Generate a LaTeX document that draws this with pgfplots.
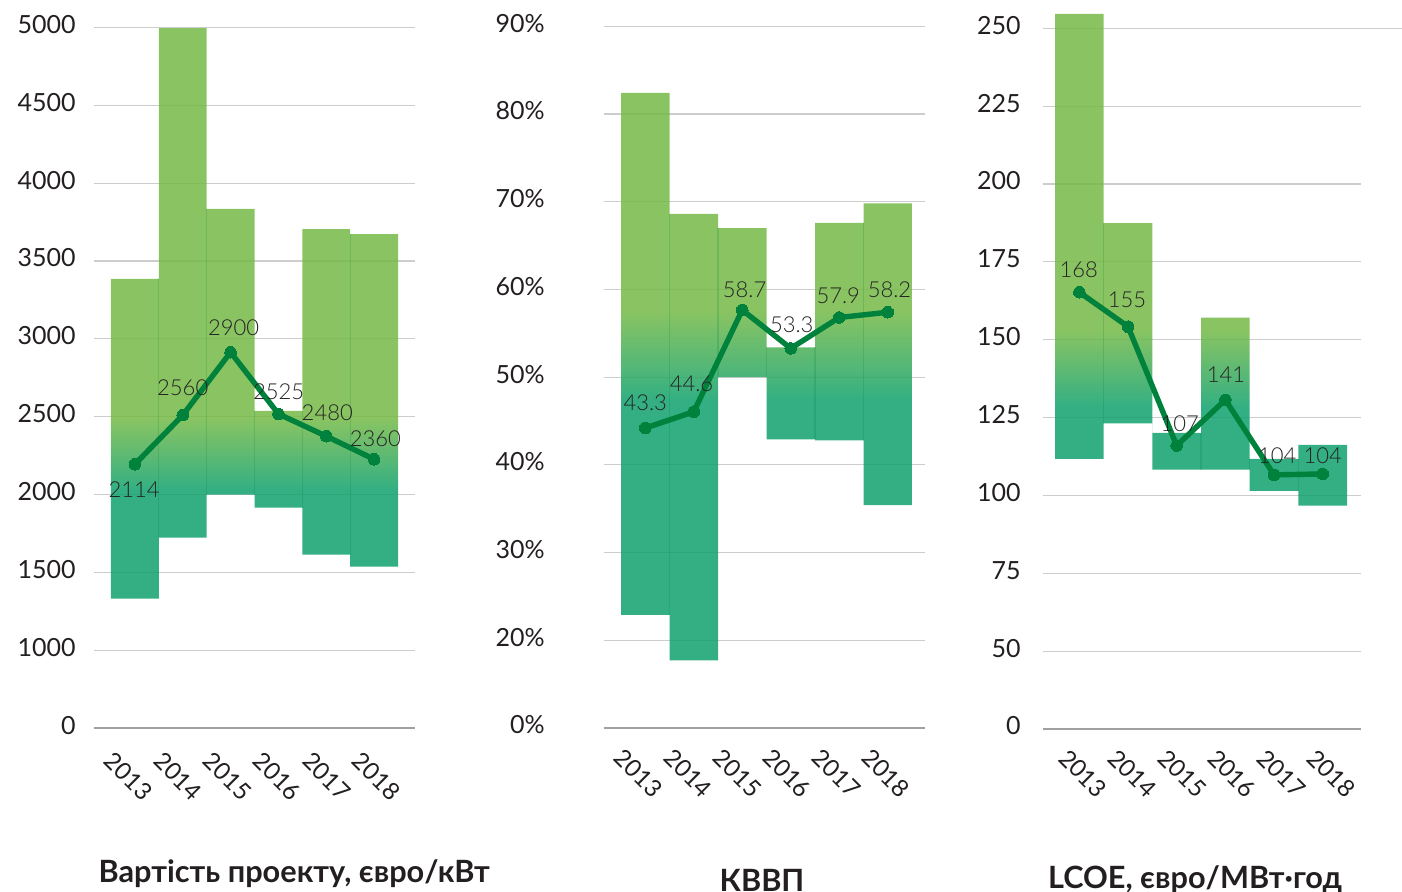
\documentclass[border=0pt]{standalone}
\usepackage{pgfplots}
\pgfplotsset{compat=1.18}
\usepackage{pgfplotstable}
\usepackage{fontspec}
\setmainfont{Lato}
\newfontfamily\lightfont{Lato Light}
\definecolor{bargreen}{RGB}{118,186,70}
\definecolor{barteal}{RGB}{15,161,109}
\definecolor{lineg}{RGB}{0,130,60}
\definecolor{gridc}{RGB}{205,205,205}
\definecolor{axc}{RGB}{160,160,160}
\definecolor{txt}{RGB}{35,31,32}
\definecolor{lab}{RGB}{35,35,35}

\pgfdeclareverticalshading{shL}{100bp}{color(0bp)=(barteal); color(34.5bp)=(barteal); color(40.9bp)=(bargreen); color(100bp)=(bargreen)}
\pgfdeclareverticalshading{shM}{100bp}{color(0bp)=(barteal); color(47.9bp)=(barteal); color(55.9bp)=(bargreen); color(100bp)=(bargreen)}
\pgfdeclareverticalshading{shR}{100bp}{color(0bp)=(barteal); color(35bp)=(barteal); color(43bp)=(bargreen); color(100bp)=(bargreen)}

\pgfplotstableread{
x y lab dy dx
0 2195 2114 -12.85 -0.35
1 2510 2560 13.8 0
2 2914 2900 12.3 1.5
3 2518 2525 11 0.15
4 2375 2480 11.8 0.5
5 2227 2360 10.15 0.65
}\costline
\pgfplotstableread{
x y lab dy dx
0 44.2 43.3 12.85 0
1 46.05 44.6 14.2 -1.15
2 57.65 58.7 10 1.15
3 53.28 53.3 11.65 0.5
4 56.8 57.9 10.85 -0.5
5 57.4 58.2 11.5 0.85
}\kvvpline
\pgfplotstableread{
x y lab dy dx
0 165.25 168 11.5 -0.35
1 154.2 155 13.5 -0.5
2 116 107 10.7 1.5
3 130.7 141 12.35 0.35
4 106.6 104 9.5 1.65
5 106.9 104 9 0
}\lcoeline

\pgfplotsset{
  panel/.style={
    scale only axis, anchor=south west, clip=false,
    axis line style={draw=none},
    major tick length=0pt, tick style={draw=none},
    ymajorgrids, grid style={draw=gridc, line width=0.55pt},
    extra y tick labels={},
    extra y tick style={grid style={draw=axc, line width=1.1pt}},
    xticklabels={2013,2014,2015,2016,2017,2018},
    yticklabel style={font=\fontsize{12.5}{14}\selectfont, text=txt, anchor=east, inner sep=0pt},
  },
  sep/.style={draw=lineg, draw opacity=0.2, line width=0.6pt, unbounded coords=jump, forget plot},
  medline/.style={lineg, line width=2.7pt, line join=round, mark=*, mark size=2.9pt,
    mark options={fill=lineg, draw=lineg, line width=0pt},
    nodes near coords, point meta=explicit symbolic,
    visualization depends on={\thisrow{dy} \as \dy},
    visualization depends on={\thisrow{dx} \as \dx},
    every node near coord/.append style={anchor=center, yshift=\dy pt, xshift=\dx pt,
      font=\lightfont\fontsize{11}{12}\selectfont, text=lab, inner sep=0pt}},
}

\begin{document}
\begin{tikzpicture}
\useasboundingbox (0,0) rectangle (701pt,446pt);

% ---------------- left panel
\begin{axis}[panel, at={(47pt,81.85pt)}, width=160.5pt, height=350.5pt,
  xmin=-0.855, xmax=5.855, ymin=500, ymax=5000,
  ytick={500,1000,...,5000},
  yticklabels={0,1000,1500,2000,2500,3000,3500,4000,4500,5000},
  extra y ticks={500},
  yticklabel style={xshift=-9pt, yshift=1.5pt},
  xtick={-0.136,0.901,1.938,2.975,4.012,5.049},
  xticklabel style={yshift=-24pt, rotate=-45, anchor=center, inner sep=0pt, font=\fontsize{12}{14}\selectfont, text=txt}]
\addplot[draw=none, shade, shading=shL, opacity=0.85] coordinates {
 (-0.5,3385) (0.5,3385) (0.5,4995) (1.5,4995) (1.5,3834) (2.5,3834) (2.5,2537) (3.5,2537)
 (3.5,3705) (4.5,3705) (4.5,3673) (5.5,3673) (5.5,1538) (4.5,1538) (4.5,1615) (3.5,1615)
 (3.5,1916) (2.5,1916) (2.5,2000) (1.5,2000) (1.5,1724) (0.5,1724) (0.5,1332) (-0.5,1332)};
\addplot[sep] coordinates {(0.5,1724) (0.5,3385) (0.5,nan) (1.5,2000) (1.5,3834) (1.5,nan)
 (2.5,2000) (2.5,2537) (2.5,nan) (3.5,1916) (3.5,2537) (3.5,nan) (4.5,1615) (4.5,3673)};
\addplot[medline] table[x=x, y=y, meta=lab] {\costline};
\end{axis}

% ---------------- middle panel
\begin{axis}[panel, at={(301.85pt,82pt)}, width=160.65pt, height=350.85pt,
  xmin=-0.857, xmax=5.768, ymin=10, ymax=90,
  ytick={10,20,...,90},
  yticklabels={0\%,20\%,30\%,40\%,50\%,60\%,70\%,80\%,90\%},
  extra y ticks={10},
  yticklabel style={xshift=-29.35pt, yshift=1.5pt},
  xtick={-0.135,0.885,1.905,2.925,3.945,4.965},
  xticklabel style={yshift=-22.7pt, rotate=-45, anchor=center, inner sep=0pt, font=\fontsize{12}{14}\selectfont, text=txt}]
\addplot[draw=none, shade, shading=shM, opacity=0.85] coordinates {
 (-0.5,82.4) (0.5,82.4) (0.5,68.6) (1.5,68.6) (1.5,67.0) (2.5,67.0) (2.5,53.4) (3.5,53.4)
 (3.5,67.6) (4.5,67.6) (4.5,69.8) (5.5,69.8) (5.5,35.4) (4.5,35.4) (4.5,42.8) (3.5,42.8)
 (3.5,42.9) (2.5,42.9) (2.5,50.0) (1.5,50.0) (1.5,17.7) (0.5,17.7) (0.5,22.9) (-0.5,22.9)};
\addplot[sep] coordinates {(0.5,22.9) (0.5,68.6) (0.5,nan) (1.5,50) (1.5,67) (1.5,nan)
 (2.5,50) (2.5,53.4) (2.5,nan) (3.5,42.9) (3.5,53.4) (3.5,nan) (4.5,42.8) (4.5,67.6)};
\addplot[medline] table[x=x, y=y, meta=lab] {\kvvpline};
\end{axis}

% ---------------- right panel
\begin{axis}[panel, at={(521.35pt,81.5pt)}, width=159pt, height=350.35pt,
  xmin=-0.753, xmax=5.781, ymin=25, ymax=250,
  ytick={25,50,...,250},
  yticklabels={0,50,75,100,125,150,175,200,225,250},
  extra y ticks={25},
  yticklabel style={xshift=-10.85pt, yshift=1.5pt},
  xtick={0.076,1.096,2.117,3.137,4.158,5.178},
  xticklabel style={yshift=-22.35pt, rotate=-45, anchor=center, inner sep=0pt, font=\fontsize{12}{14}\selectfont, text=txt}]
\addplot[gridc, line width=0.55pt, forget plot] coordinates {(5.781,250) (6.62,250)};
\addplot[draw=none, shade, shading=shR, opacity=0.85] coordinates {
 (-0.5,254.6) (0.5,254.6) (0.5,187.4) (1.5,187.4) (1.5,120.1) (2.5,120.1) (2.5,157.1) (3.5,157.1)
 (3.5,111.7) (4.5,111.7) (4.5,116.2) (5.5,116.2) (5.5,96.7) (4.5,96.7) (4.5,101.5) (3.5,101.5)
 (3.5,108.3) (2.5,108.3) (2.5,108.3) (1.5,108.3) (1.5,123.1) (0.5,123.1) (0.5,111.7) (-0.5,111.7)};
\addplot[sep] coordinates {(0.5,123.1) (0.5,187.4) (0.5,nan) (2.5,108.3) (2.5,120.1) (2.5,nan)
 (3.5,108.3) (3.5,111.7) (3.5,nan) (4.5,101.5) (4.5,111.7)};
\addplot[medline] table[x=x, y=y, meta=lab] {\lcoeline};
\end{axis}

% ---------------- titles
\node[anchor=base, font=\bfseries\fontsize{15.35}{17}\selectfont, text=txt, inner sep=0pt] at (147.1pt,4.65pt) {Вартість проекту, євро/кВт};
\node[anchor=base, font=\bfseries\fontsize{15.35}{17}\selectfont, text=txt, inner sep=0pt] at (381pt,0.35pt) {КВВП};
\node[anchor=base, font=\bfseries\fontsize{15.35}{17}\selectfont, text=txt, inner sep=0pt] at (597.5pt,1.85pt) {LCOE, євро/МВт·год};
\end{tikzpicture}
\end{document}
